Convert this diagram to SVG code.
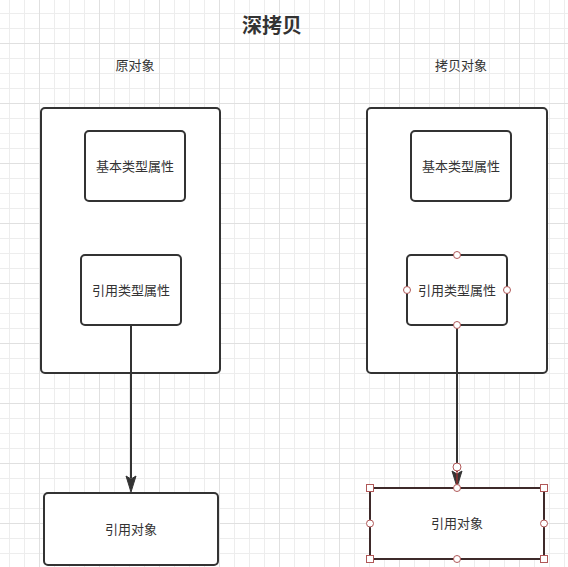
<svg xmlns="http://www.w3.org/2000/svg" width="568" height="567" viewBox="0 0 568 567">
<style>
.box{fill:#fff;stroke:#333;stroke-width:2}
.t{font-family:"Liberation Sans","Noto Sans CJK SC",sans-serif;font-size:13px;fill:#333;text-anchor:middle;dominant-baseline:central}
.title{font-size:20px;font-weight:bold}
.edge{stroke:#333;stroke-width:2;fill:none}
.h{fill:#fff;stroke:#b05858;stroke-width:1}
</style>
<defs>
<pattern id="grid" patternUnits="userSpaceOnUse" x="-21" y="-17" width="60" height="60">
<path d="M0.5 0V60M15.5 0V60M30.5 0V60M45.5 0V60M0 0.5H60M0 15.5H60M0 30.5H60M0 45.5H60" stroke="#ededed" stroke-width="1" fill="none"/>
<path d="M0.5 0V60M0 0.5H60" stroke="#e0e0e0" stroke-width="1" fill="none"/>
</pattern>
</defs>
<rect width="568" height="567" fill="#fff"/>
<rect width="568" height="567" fill="url(#grid)"/>
<text class="t title" x="272" y="26">深拷贝</text>
<text class="t" x="135" y="65">原对象</text>
<text class="t" x="461" y="65">拷贝对象</text>
<g id="orig">
<rect class="box" x="41" y="108" width="179" height="265" rx="4"/>
</g>
<g id="orig-basic">
<rect class="box" x="85" y="131" width="100" height="70" rx="4"/>
<text class="t" x="135" y="166">基本类型属性</text>
</g>
<g id="orig-ref">
<rect class="box" x="81" y="255" width="100" height="70" rx="4"/>
<text class="t" x="131" y="290">引用类型属性</text>
</g>
<g id="copy">
<rect class="box" x="367" y="108" width="180" height="265" rx="4"/>
</g>
<g id="copy-basic">
<rect class="box" x="411" y="131" width="100" height="70" rx="4"/>
<text class="t" x="461" y="166">基本类型属性</text>
</g>
<g id="copy-ref">
<rect class="box" x="407" y="255" width="100" height="70" rx="4"/>
<text class="t" x="457" y="290">引用类型属性</text>
</g>
<g id="orig-obj">
<rect class="box" x="44" y="493" width="174" height="72" rx="4"/>
<text class="t" x="131" y="529">引用对象</text>
</g>
<g id="copy-obj">
<rect x="370" y="488" width="174" height="71" fill="#fff" stroke="#3e2a2a" stroke-width="2"/>
<text class="t" x="457" y="523">引用对象</text>
</g>
<g id="connectors">
<path class="edge" d="M131 325V478" />
<path d="M126 476L131 492L136 476L131 479Z" fill="#333" stroke="#333" stroke-width="1"/>
<path class="edge" d="M457 325V472" />
<path d="M452 471L457 487L462 471L457 474Z" fill="#333" stroke="#333" stroke-width="1"/>
<path d="M457 467V488" stroke="#c03030" stroke-width="1"/>
</g>
<g id="handles">
<circle class="h" cx="457" cy="255" r="3.5"/>
<circle class="h" cx="407" cy="290" r="3.5"/>
<circle class="h" cx="507" cy="290" r="3.5"/>
<circle class="h" cx="457" cy="325" r="3.5"/>
<circle class="h" cx="457" cy="467" r="4"/>
<circle class="h" cx="457" cy="488" r="3.5"/>
<circle class="h" cx="370" cy="523.5" r="3.5"/>
<circle class="h" cx="544" cy="523.5" r="3.5"/>
<circle class="h" cx="457" cy="559" r="3.5"/>
<rect class="h" x="366.5" y="484.5" width="7" height="7"/>
<rect class="h" x="540.5" y="484.5" width="7" height="7"/>
<rect class="h" x="366.5" y="555.5" width="7" height="7"/>
<rect class="h" x="540.5" y="555.5" width="7" height="7"/>
</g>
</svg>
